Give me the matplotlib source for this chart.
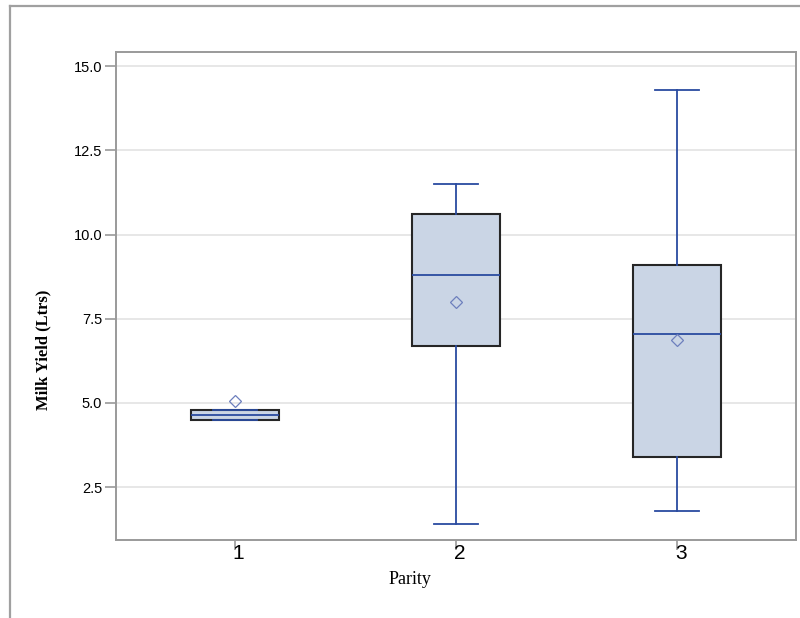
import matplotlib
matplotlib.use('Agg')
import matplotlib.pyplot as plt
from matplotlib.lines import Line2D
from matplotlib.transforms import ScaledTranslation

# data
parity = ['1', '2', '3']
whisker_low = [4.50, 1.40, 1.79]
q1 = [4.50, 6.68, 3.39]
median = [4.64, 8.79, 7.04]
q3 = [4.79, 10.60, 9.09]
whisker_high = [4.79, 11.49, 14.28]
mean = [5.05, 7.99, 6.86]

stats = []
for i in range(len(parity)):
    stats.append({'label': parity[i], 'whislo': whisker_low[i], 'q1': q1[i],
                  'med': median[i], 'q3': q3[i], 'whishi': whisker_high[i],
                  'mean': mean[i], 'fliers': []})

fig = plt.figure(figsize=(8, 6.18), dpi=100)
ax = fig.add_axes([0.145, 0.1262, 0.85, 0.7897])

blue = '#2a4ba0'
ax.bxp(stats, positions=[1, 2, 3], widths=0.4, patch_artist=True, showmeans=True,
       boxprops=dict(facecolor='#cad5e5', edgecolor='#262626', linewidth=1.5),
       whiskerprops=dict(color=blue, linewidth=1.3),
       capprops=dict(color=blue, linewidth=1.3),
       medianprops=dict(color=blue, linewidth=1.3),
       meanprops=dict(marker='D', markersize=6.5, markerfacecolor='none',
                      markeredgecolor='#6d7fbd', markeredgewidth=0.9),
       capwidths=0.2, zorder=3)

ax.set_xlim(0.462, 3.538)
ax.set_ylim(0.93, 15.42)
ax.set_yticks([2.5, 5.0, 7.5, 10.0, 12.5, 15.0])
ax.set_yticklabels(['2.5', '5.0', '7.5', '10.0', '12.5', '15.0'])
ax.yaxis.grid(True, color='#e3e3e3', linewidth=1.2, zorder=0)
ax.set_axisbelow(True)

for s in ax.spines.values():
    s.set_color('#9a9a9a')
    s.set_linewidth(1.4)
ax.tick_params(axis='y', length=8, width=1.2, color='#9a9a9a', labelsize=10.5, pad=2)
ax.tick_params(axis='x', length=7, width=1.2, color='#9a9a9a', labelsize=15, pad=-4)
for t in ax.get_xticklabels() + ax.get_yticklabels():
    t.set_family('Liberation Sans')
# SAS puts the category numbers a bit right of the tick
for t in ax.get_xticklabels():
    t.set_transform(t.get_transform() + ScaledTranslation(0.035, 0, fig.dpi_scale_trans))

ax.set_ylabel('Milk Yield (Ltrs)', family='Liberation Serif', fontweight='bold', fontsize=12)
ax.yaxis.set_label_coords(-0.095, 0.39)
ax.set_xlabel('Parity', family='Liberation Serif', fontsize=13)
ax.xaxis.set_label_coords(0.432, -0.063)

# outer frame of the graph output
fig.add_artist(Line2D([0.0125, 1.0], [0.9903, 0.9903], color='#a0a0a0', linewidth=1.6))
fig.add_artist(Line2D([0.0125, 0.0125], [0.0, 0.9903], color='#a0a0a0', linewidth=1.6))

fig.savefig('out.png', dpi=100)
